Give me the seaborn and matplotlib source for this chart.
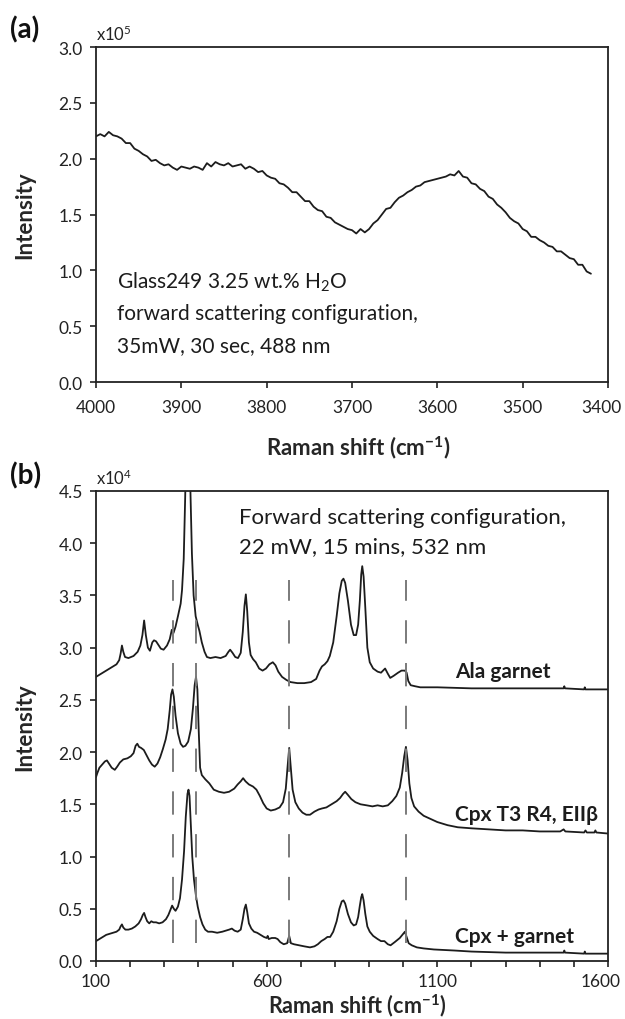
import numpy as np
import pandas as pd
import matplotlib
matplotlib.use("Agg")
import matplotlib.pyplot as plt
from matplotlib.ticker import FixedLocator, FuncFormatter
from matplotlib.transforms import ScaledTranslation
import seaborn as sns

# ---------------- data: panel (a) ----------------
wn_a = list(range(4000, 3419, -5))
int_a = [2.20, 2.22, 2.20, 2.24, 2.21, 2.20, 2.18, 2.14, 2.14, 2.09,
         2.07, 2.04, 2.02, 1.98, 1.99, 1.96, 1.94, 1.95, 1.92, 1.90,
         1.93, 1.92, 1.91, 1.93, 1.92, 1.90, 1.96, 1.93, 1.97, 1.95,
         1.94, 1.96, 1.93, 1.94, 1.95, 1.91, 1.93, 1.91, 1.88, 1.89,
         1.85, 1.83, 1.82, 1.78, 1.77, 1.74, 1.70, 1.70, 1.66, 1.62,
         1.62, 1.57, 1.54, 1.53, 1.48, 1.47, 1.43, 1.41, 1.39, 1.37,
         1.36, 1.33, 1.37, 1.34, 1.37, 1.42, 1.45, 1.50, 1.55, 1.56,
         1.61, 1.65, 1.67, 1.70, 1.72, 1.75, 1.76, 1.79, 1.80, 1.81,
         1.82, 1.83, 1.84, 1.86, 1.85, 1.89, 1.84, 1.83, 1.78, 1.77,
         1.73, 1.71, 1.66, 1.64, 1.59, 1.56, 1.52, 1.47, 1.44, 1.42,
         1.37, 1.35, 1.30, 1.30, 1.27, 1.25, 1.22, 1.21, 1.17, 1.17,
         1.14, 1.11, 1.10, 1.05, 1.05, 0.99, 0.97]
xticks_a = [4000, 3900, 3800, 3700, 3600, 3500, 3400]
yticks_a = [0.0, 0.5, 1.0, 1.5, 2.0, 2.5, 3.0]

# ---------------- data: panel (b) ----------------
ala_wn = [100, 110, 120, 130, 140, 150, 160, 168, 172, 176, 180, 185, 195, 210, 222, 230, 236, 241, 246, 252,
          258, 265, 270, 276, 282, 290, 298, 308, 316, 322, 327, 333, 340, 348, 352, 357, 361, 365, 369, 373,
          377, 381, 386, 392, 398, 403, 410, 418, 425, 435, 450, 465, 480, 488, 493, 500, 508, 516, 524, 530,
          535, 539, 543, 548, 553, 560, 568, 578, 588, 598, 608, 618, 626, 634, 645, 658, 670, 690, 710, 730,
          745, 755, 762, 770, 778, 785, 795, 805, 813, 820, 825, 830, 838, 847, 855, 862, 868, 873, 877, 880,
          884, 889, 895, 902, 912, 925, 935, 947, 955, 962, 972, 985, 995, 1005, 1010, 1015, 1022, 1035, 1050, 1100,
          1200, 1300, 1400, 1470, 1472, 1474, 1530, 1532, 1534, 1600]
ala_int = [2.72, 2.74, 2.76, 2.78, 2.80, 2.82, 2.84, 2.88, 2.94, 3.02, 2.96, 2.91, 2.90, 2.92, 2.96, 3.02, 3.12, 3.26, 3.12, 3.00,
           2.97, 3.05, 3.07, 3.06, 3.03, 2.99, 2.98, 3.02, 3.08, 3.17, 3.14, 3.20, 3.30, 3.42, 3.55, 3.85, 4.40, 5.00, 5.20, 5.00,
           4.45, 3.90, 3.50, 3.30, 3.22, 3.16, 3.05, 2.96, 2.91, 2.90, 2.91, 2.90, 2.92, 2.96, 2.98, 2.95, 2.91, 2.90, 2.95, 3.15,
           3.40, 3.51, 3.35, 3.05, 2.93, 2.89, 2.86, 2.80, 2.78, 2.80, 2.84, 2.86, 2.83, 2.77, 2.72, 2.69, 2.67, 2.66, 2.66, 2.67,
           2.70, 2.78, 2.82, 2.84, 2.87, 2.92, 3.05, 3.30, 3.52, 3.64, 3.66, 3.62, 3.45, 3.22, 3.12, 3.12, 3.22, 3.45, 3.70, 3.78,
           3.68, 3.38, 3.00, 2.86, 2.80, 2.77, 2.76, 2.80, 2.75, 2.71, 2.73, 2.76, 2.78, 2.78, 2.76, 2.68, 2.64, 2.63, 2.62, 2.62,
           2.61, 2.61, 2.61, 2.61, 2.63, 2.61, 2.60, 2.62, 2.60, 2.60]

cpx_wn = [100, 104, 110, 118, 126, 132, 138, 146, 155, 162, 170, 180, 192, 202, 210, 216, 221, 226, 232, 240,
          248, 256, 264, 272, 280, 288, 296, 304, 310, 316, 320, 324, 328, 333, 340, 348, 355, 362, 370, 378,
          384, 389, 393, 397, 401, 405, 410, 420, 432, 445, 460, 475, 490, 505, 515, 524, 531, 538, 548, 560,
          570, 580, 590, 600, 612, 625, 638, 648, 656, 661, 666, 671, 676, 684, 694, 705, 716, 727, 740, 752,
          762, 775, 790, 805, 815, 824, 830, 838, 848, 860, 875, 893, 910, 925, 940, 955, 968, 980, 990, 997,
          1003, 1008, 1013, 1018, 1024, 1032, 1045, 1060, 1080, 1100, 1130, 1160, 1200, 1250, 1300, 1350, 1400, 1460, 1470, 1475,
          1530, 1534, 1538, 1560, 1563, 1566, 1600]
cpx_int = [1.76, 1.80, 1.85, 1.88, 1.91, 1.92, 1.89, 1.85, 1.83, 1.86, 1.90, 1.93, 1.94, 1.96, 1.99, 2.06, 2.08, 2.05, 2.04, 2.02,
           1.97, 1.92, 1.88, 1.86, 1.89, 1.95, 2.03, 2.12, 2.22, 2.40, 2.55, 2.60, 2.53, 2.35, 2.18, 2.08, 2.05, 2.06, 2.10, 2.22,
           2.42, 2.64, 2.72, 2.60, 2.20, 1.85, 1.78, 1.74, 1.70, 1.64, 1.62, 1.61, 1.62, 1.65, 1.69, 1.72, 1.75, 1.72, 1.69, 1.67,
           1.64, 1.58, 1.51, 1.46, 1.44, 1.45, 1.47, 1.52, 1.65, 1.85, 2.04, 1.84, 1.64, 1.52, 1.46, 1.42, 1.40, 1.40, 1.43, 1.45,
           1.46, 1.47, 1.50, 1.53, 1.56, 1.60, 1.62, 1.59, 1.55, 1.52, 1.50, 1.49, 1.48, 1.49, 1.48, 1.49, 1.53, 1.58, 1.66, 1.80,
           1.96, 2.05, 1.92, 1.70, 1.56, 1.48, 1.43, 1.39, 1.36, 1.33, 1.30, 1.28, 1.27, 1.26, 1.25, 1.25, 1.24, 1.24, 1.26, 1.24,
           1.23, 1.25, 1.23, 1.23, 1.25, 1.23, 1.22]

mix_wn = [100, 110, 120, 130, 140, 150, 160, 168, 172, 176, 180, 186, 195, 205, 215, 225, 232, 237, 241, 245,
          250, 256, 262, 268, 276, 285, 295, 305, 312, 318, 323, 328, 333, 340, 346, 352, 358, 363, 368, 371,
          374, 378, 382, 387, 393, 398, 405, 412, 420, 428, 440, 455, 470, 480, 490, 498, 506, 515, 524, 530,
          535, 539, 543, 548, 555, 563, 572, 582, 592, 600, 603, 606, 615, 625, 632, 640, 650, 660, 666, 671,
          680, 695, 710, 727, 740, 750, 760, 770, 778, 786, 795, 805, 813, 820, 825, 830, 838, 847, 855, 862,
          868, 873, 877, 880, 884, 889, 895, 902, 912, 925, 935, 945, 955, 963, 975, 990, 1000, 1005, 1010, 1016,
          1025, 1040, 1060, 1090, 1150, 1200, 1300, 1400, 1470, 1472, 1474, 1530, 1532, 1534, 1600]
mix_int = [0.19, 0.21, 0.23, 0.25, 0.26, 0.27, 0.28, 0.30, 0.33, 0.35, 0.32, 0.30, 0.30, 0.31, 0.33, 0.36, 0.40, 0.44, 0.46, 0.42,
           0.38, 0.36, 0.38, 0.37, 0.37, 0.36, 0.37, 0.40, 0.44, 0.49, 0.53, 0.50, 0.48, 0.52, 0.60, 0.78, 1.05, 1.38, 1.60, 1.64,
           1.58, 1.30, 1.00, 0.78, 0.62, 0.52, 0.42, 0.35, 0.30, 0.28, 0.28, 0.27, 0.28, 0.29, 0.30, 0.31, 0.29, 0.28, 0.30, 0.40,
           0.50, 0.54, 0.47, 0.36, 0.31, 0.28, 0.27, 0.25, 0.23, 0.22, 0.24, 0.21, 0.22, 0.22, 0.21, 0.18, 0.16, 0.17, 0.24, 0.17,
           0.16, 0.15, 0.14, 0.13, 0.14, 0.16, 0.19, 0.21, 0.23, 0.23, 0.28, 0.38, 0.50, 0.57, 0.58, 0.55, 0.45, 0.37, 0.34, 0.35,
           0.42, 0.53, 0.61, 0.64, 0.58, 0.45, 0.33, 0.28, 0.24, 0.21, 0.19, 0.19, 0.16, 0.15, 0.18, 0.22, 0.26, 0.28, 0.23, 0.17,
           0.15, 0.13, 0.12, 0.11, 0.10, 0.09, 0.08, 0.08, 0.08, 0.10, 0.08, 0.07, 0.09, 0.07, 0.07]

sample_names = ["Ala garnet", "Cpx T3 R4, EIIβ", "Cpx + garnet"]
dash_wn = [325, 394, 666, 1008]
xticks_b = list(range(100, 1601, 100))
xlabels_b = [100, 600, 1100, 1600]
yticks_b = [0.0, 0.5, 1.0, 1.5, 2.0, 2.5, 3.0, 3.5, 4.0, 4.5]

# ---------------- style ----------------
sns.set_style("ticks")
plt.rcParams["font.family"] = ["Lato", "DejaVu Sans"]
plt.rcParams["mathtext.fontset"] = "custom"
plt.rcParams["mathtext.rm"] = "Lato"
plt.rcParams["mathtext.bf"] = "Lato:bold"
plt.rcParams["mathtext.it"] = "Lato:italic"

INK = "#1c1c1c"
AX = "#222222"
fig = plt.figure(figsize=(6.25, 10.2), dpi=100)
ax1 = fig.add_axes([0.1536, 0.6245, 0.8192, 0.3284])
ax2 = fig.add_axes([0.1536, 0.0569, 0.8192, 0.4608])

for ax in (ax1, ax2):
    for s in ax.spines.values():
        s.set_visible(True)
        s.set_linewidth(1.3)
        s.set_color(AX)
    ax.tick_params(direction="out", length=4.5, width=1.2, color=AX,
                   labelsize=12.5, labelcolor=AX, top=False, right=False)


def nudge_last_xlabel(ax, dx_px):
    labels = ax.get_xticklabels()
    lab = [l for l in labels if l.get_text()][-1]
    lab.set_transform(lab.get_transform() + ScaledTranslation(dx_px / 100.0, 0, fig.dpi_scale_trans))


# ---- panel (a)
df_a = pd.DataFrame({"wn": wn_a, "I": int_a})
sns.lineplot(data=df_a, x="wn", y="I", ax=ax1, color=INK, linewidth=1.3,
             sort=False, estimator=None)
ax1.set_xlim(4000, 3400)
ax1.set_ylim(0, 3.0)
ax1.set_xticks(xticks_a)
ax1.set_xticklabels([str(v) for v in xticks_a])
ax1.set_yticks(yticks_a)
ax1.yaxis.set_major_formatter(FuncFormatter(lambda v, p: f"{v:.1f}"))
ax1.tick_params(axis="x", pad=8)
ax1.tick_params(axis="y", pad=5)
ax1.set_xlabel("Raman shift (cm$^{\\mathbf{-1}}$)", fontsize=16, fontweight="bold")
ax1.set_ylabel("Intensity", fontsize=16, fontweight="bold")
ax1.xaxis.set_label_coords(0.512, -0.194)
ax1.xaxis.label.set_va("center")
ax1.yaxis.set_label_coords(-0.139, 0.5)
ax1.yaxis.label.set_va("center")
ax1.text(0.0, 1.012, "x10$^5$", transform=ax1.transAxes, fontsize=12,
         ha="left", va="bottom", color=AX)
fig.text(10 / 625, 1 - 30 / 1020, "(a)", fontsize=20, fontweight="bold",
         ha="left", va="center", color="#111111")
ax1.text(3975, 0.90, "Glass249 3.25 wt.% H$_2$O", fontsize=15, va="center", color=INK)
ax1.text(3975, 0.615, "forward scattering configuration,", fontsize=15, va="center", color=INK)
ax1.text(3975, 0.33, "35mW, 30 sec, 488 nm", fontsize=15, va="center", color=INK)

# ---- panel (b)
frames = []
for name, w, i in zip(sample_names, [ala_wn, cpx_wn, mix_wn], [ala_int, cpx_int, mix_int]):
    frames.append(pd.DataFrame({"wn": w, "I": i, "sample": name}))
df_b = pd.concat(frames, ignore_index=True)
sns.lineplot(data=df_b, x="wn", y="I", hue="sample", units="sample",
             palette=[INK, INK, INK], ax=ax2, linewidth=1.3, sort=False,
             estimator=None, legend=False)
ax2.vlines(dash_wn, 0.17, 3.65, colors="#7a7a7a", linewidth=1.4,
           linestyles=(0, (12, 10)), zorder=3)
ax2.set_xlim(100, 1600)
ax2.set_ylim(0, 4.5)
ax2.xaxis.set_major_locator(FixedLocator(xticks_b))
ax2.set_xticklabels([str(v) if v in xlabels_b else "" for v in xticks_b])
ax2.set_yticks(yticks_b)
ax2.yaxis.set_major_formatter(FuncFormatter(lambda v, p: f"{v:.1f}"))
ax2.tick_params(axis="x", pad=4)
ax2.tick_params(axis="y", pad=5)
ax2.set_xlabel("Raman shift (cm$^{\\mathbf{-1}}$)", fontsize=15.5, fontweight="bold")
ax2.set_ylabel("Intensity", fontsize=16, fontweight="bold")
ax2.xaxis.set_label_coords(0.51, -0.093)
ax2.xaxis.label.set_va("center")
ax2.yaxis.set_label_coords(-0.139, 0.5)
ax2.yaxis.label.set_va("center")
ax2.text(0.0, 1.008, "x10$^4$", transform=ax2.transAxes, fontsize=12,
         ha="left", va="bottom", color=AX)
fig.text(10 / 625, 1 - 476 / 1020, "(b)", fontsize=20, fontweight="bold",
         ha="left", va="center", color="#111111")
ax2.text(519, 4.25, "Forward scattering configuration,", fontsize=16, va="center", color=INK)
ax2.text(519, 3.97, "22 mW, 15 mins, 532 nm", fontsize=16, va="center", color=INK)
for name, yv in zip(sample_names, [2.78, 1.41, 0.24]):
    ax2.text(1152, yv, name, fontsize=15, fontweight="bold", va="center", color=INK)

nudge_last_xlabel(ax1, -7)
nudge_last_xlabel(ax2, -7)

fig.savefig("out.png", dpi=100)
